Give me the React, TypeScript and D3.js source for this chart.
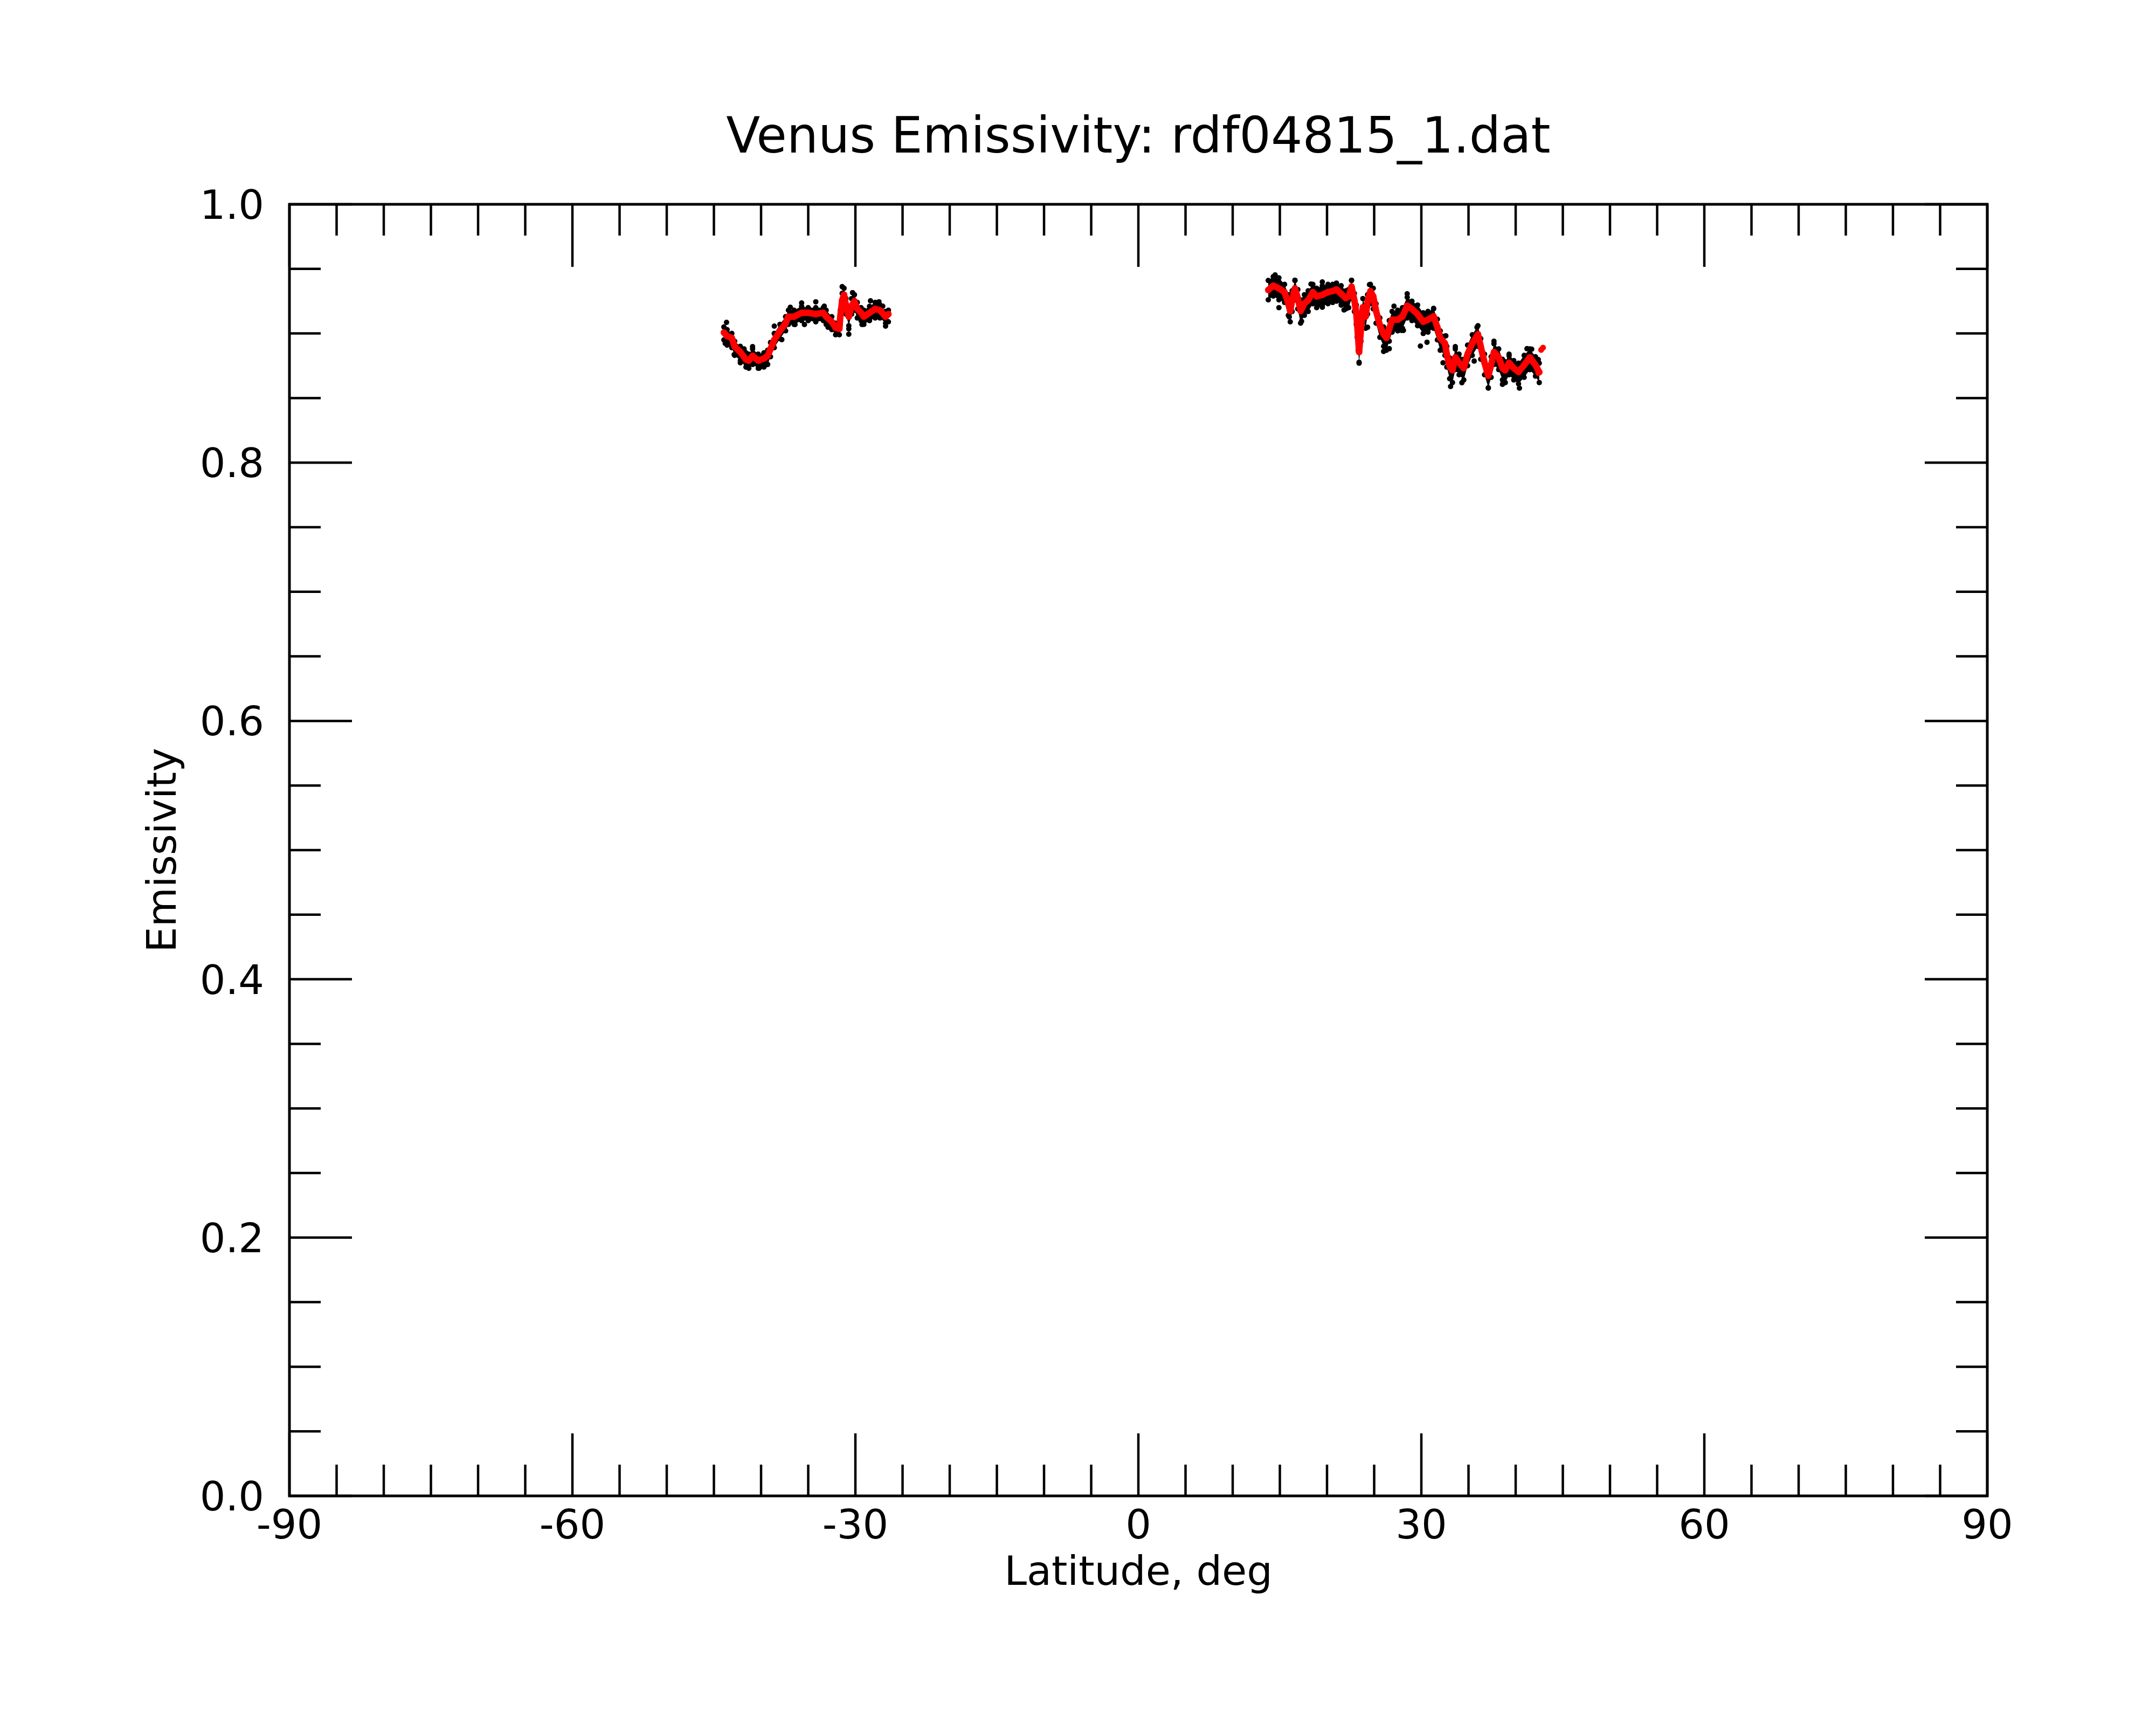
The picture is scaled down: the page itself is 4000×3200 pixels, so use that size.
import React from "react";
import * as d3 from "d3";

// ---------- data ----------
const title = "Venus Emissivity: rdf04815_1.dat";
const xLabel = "Latitude, deg";
const yLabel = "Emissivity";
const xMajorTicks = [-90, -60, -30, 0, 30, 60, 90];
const yMajorTicks = [0.0, 0.2, 0.4, 0.6, 0.8, 1.0];

// Southern segment
const southLat = [-43.94, -43.6, -43.1, -42.8, -42.2, -41.6, -41.3, -40.9, -40.3, -39.7, -39.3, -39.0, -38.6, -38.0, -37.4, -37.1, -36.5, -35.7, -35.0, -34.2, -33.4, -33.1, -32.5, -32.1, -31.7,
  -31.6, -31.4, -31.2, -31.0, -30.7, -30.4, -30.1, -29.8, -29.4, -29.1, -28.5, -27.9, -27.4, -26.8, -26.5];
const southSmooth = [0.9007, 0.898, 0.8965, 0.8898, 0.8856, 0.8798, 0.879, 0.8827, 0.879, 0.8806, 0.8827, 0.888, 0.895, 0.902, 0.9078, 0.913, 0.913, 0.916, 0.916, 0.915, 0.916, 0.913, 0.909, 0.9044, 0.9036,
  0.913, 0.9257, 0.930, 0.9215, 0.913, 0.9215, 0.925, 0.919, 0.916, 0.913, 0.916, 0.919, 0.918, 0.913, 0.915];
const southRawHigh = [0.905, 0.903, 0.900, 0.894, 0.890, 0.885, 0.884, 0.888, 0.884, 0.885, 0.887, 0.893, 0.900, 0.907, 0.913, 0.918, 0.918, 0.921, 0.920, 0.920, 0.920, 0.918, 0.913, 0.908, 0.906,
  0.918, 0.931, 0.935, 0.927, 0.918, 0.927, 0.930, 0.924, 0.920, 0.918, 0.921, 0.924, 0.922, 0.917, 0.918];
const southRawLow = [0.895, 0.891, 0.889, 0.883, 0.879, 0.874, 0.873, 0.876, 0.873, 0.874, 0.876, 0.882, 0.889, 0.896, 0.902, 0.907, 0.907, 0.910, 0.910, 0.909, 0.910, 0.907, 0.903, 0.899, 0.899,
  0.907, 0.919, 0.923, 0.915, 0.906, 0.915, 0.918, 0.912, 0.910, 0.907, 0.910, 0.912, 0.912, 0.908, 0.909];
const southOutLat = [-43.66, -43.8, -42.85, -41.8, -42.2, -40.9, -40.2, -39.5, -38.6, -37.8, -36.9, -36.4, -35.7, -35.4, -34.2, -33.3, -32.9, -31.9, -31.4, -30.3, -30.7, -30.7, -29.3, -28.4, -27.5, -26.8, -27.1];
const southOutEmis = [0.9086, 0.8923, 0.8836, 0.888, 0.8773, 0.8898, 0.8731, 0.8756, 0.9057, 0.8952, 0.9203, 0.9069, 0.9236, 0.9069, 0.9245, 0.9211, 0.9048, 0.9003, 0.9362, 0.9316, 0.8994, 0.9036, 0.9069, 0.9253, 0.9245, 0.9057, 0.9211];

// Northern segment
const northLat = [13.77, 14.3, 14.9, 15.5, 15.9, 16.1, 16.3, 16.6, 16.9, 17.2, 17.6, 18.0, 18.5, 18.9, 19.5, 20.1, 20.6, 21.0, 21.5, 22.0, 22.3, 22.6, 22.9, 23.1, 23.2, 23.3, 23.4, 23.6, 23.8, 24.1, 24.3, 24.6, 24.9, 25.2, 25.6, 26.0, 26.3, 26.6, 26.9, 27.5, 28.0, 28.5, 29.0, 29.6, 30.2, 30.7, 31.3, 31.7, 32.0, 32.5, 32.7, 33.0, 33.3, 33.6, 34.0, 34.5, 34.9, 35.4, 36.0, 36.3, 36.7, 37.1, 37.4, 37.7, 38.2, 38.6, 38.9, 39.3, 39.8, 40.3, 40.9, 41.5, 42.1, 42.5];
const northSmooth = [0.9336, 0.9370, 0.9349, 0.9320, 0.9232, 0.9174, 0.9257, 0.9349, 0.9274, 0.9174, 0.9232, 0.9257, 0.9320, 0.9287, 0.9299, 0.9320, 0.9328, 0.9341, 0.9307, 0.9274, 0.9287, 0.9362, 0.9257, 0.9161, 0.9065, 0.8965, 0.8856, 0.9036, 0.9203, 0.9132, 0.9245, 0.9328, 0.9287, 0.9174, 0.9065, 0.8994, 0.8965, 0.9036, 0.9107, 0.9107, 0.9132, 0.9215, 0.9190, 0.9149, 0.9091, 0.9107, 0.9132, 0.9048, 0.8965, 0.8923, 0.8840, 0.8744, 0.8715, 0.8815, 0.8773, 0.8731, 0.8840, 0.8923, 0.8994, 0.8898, 0.8773, 0.8673, 0.8756, 0.8856, 0.8815, 0.8731, 0.8715, 0.8773, 0.8731, 0.8702, 0.8756, 0.8815, 0.8756, 0.8700];
const northRawHigh = [0.941, 0.944, 0.943, 0.938, 0.930, 0.924, 0.933, 0.941, 0.934, 0.926, 0.930, 0.933, 0.938, 0.935, 0.937, 0.938, 0.938, 0.939, 0.937, 0.933, 0.934, 0.941, 0.931, 0.922, 0.912, 0.902, 0.891, 0.909, 0.927, 0.919, 0.930, 0.938, 0.935, 0.923, 0.912, 0.905, 0.902, 0.910, 0.917, 0.918, 0.920, 0.928, 0.925, 0.922, 0.916, 0.917, 0.919, 0.911, 0.902, 0.898, 0.890, 0.881, 0.878, 0.888, 0.884, 0.880, 0.891, 0.899, 0.906, 0.896, 0.884, 0.874, 0.882, 0.892, 0.888, 0.880, 0.878, 0.884, 0.879, 0.877, 0.883, 0.888, 0.882, 0.877];
const northRawLow = [0.926, 0.929, 0.926, 0.924, 0.914, 0.909, 0.917, 0.926, 0.919, 0.908, 0.914, 0.917, 0.923, 0.920, 0.921, 0.923, 0.924, 0.925, 0.922, 0.919, 0.920, 0.927, 0.917, 0.907, 0.897, 0.887, 0.877, 0.894, 0.911, 0.904, 0.915, 0.923, 0.919, 0.908, 0.897, 0.890, 0.887, 0.894, 0.901, 0.902, 0.904, 0.912, 0.910, 0.906, 0.900, 0.901, 0.904, 0.895, 0.887, 0.883, 0.874, 0.865, 0.862, 0.872, 0.868, 0.864, 0.875, 0.883, 0.890, 0.880, 0.868, 0.858, 0.866, 0.876, 0.872, 0.864, 0.862, 0.868, 0.864, 0.861, 0.866, 0.872, 0.867, 0.862];
const northOutLat = [16.6, 16.0, 17.3, 18.3, 19.5, 19.5, 21.8, 22.6, 23.4, 24.5, 24.3, 26.0, 26.6, 27.9, 27.1, 28.5, 28.1, 29.9, 30.6, 31.3, 32.3, 32.6, 33.1, 34.3, 33.6, 35.9, 35.6, 37.1, 37.7, 38.6, 39.3, 40.4, 41.2, 41.7, 42.4, 14.5, 14.9];
const northOutEmis = [0.9412, 0.9128, 0.9094, 0.9382, 0.9399, 0.9203, 0.9182, 0.9412, 0.8777, 0.9378, 0.9048, 0.8861, 0.8882, 0.9023, 0.9211, 0.9307, 0.9023, 0.8902, 0.8932, 0.9194, 0.8773, 0.8982, 0.8589, 0.8619, 0.8898, 0.9048, 0.8786, 0.8577, 0.8940, 0.8606, 0.8827, 0.8577, 0.8882, 0.8878, 0.8798, 0.9453, 0.9200];
const northEndLat = [42.7, 42.9, 42.4];
const northEndEmis = [0.8873, 0.8890, 0.8694];

// ---------- layout ----------
const W = 4000;
const H = 3200;
const L = 537, R = 3687, T = 379, B = 2775;
const FONT = "'DejaVu Sans', sans-serif";

const x = d3.scaleLinear().domain([-90, 90]).range([L, R]);
const y = d3.scaleLinear().domain([0, 1]).range([B, T]);

const xMinor = d3.range(-90, 90.001, 5);
const yMinor = d3.range(0, 1.0001, 0.05);

type Seg = { lat: number[]; smooth: number[]; hi: number[]; lo: number[] };
const segments: Seg[] = [
  { lat: southLat, smooth: southSmooth, hi: southRawHigh, lo: southRawLow },
  { lat: northLat, smooth: northSmooth, hi: northRawHigh, lo: northRawLow },
];

export default function App() {
  const minorLen = 58;
  const majorLen = 116;
  return (
    <svg
      width={W}
      height={H}
      viewBox={`0 0 ${W} ${H}`}
      style={{ position: "absolute", left: 0, top: 0, background: "#fff", display: "block" }}
      fontFamily={FONT}
    >
      <rect x={0} y={0} width={W} height={H} fill="#fff" />

      {/* raw data band (black) */}
      {segments.map((s, i) => {
        const a = d3
          .area<number>()
          .x((_, k) => x(s.lat[k]))
          .y0((_, k) => y(s.lo[k]))
          .y1((_, k) => y(s.hi[k]))
          .curve(d3.curveLinear);
        return (
          <g key={"raw" + i}>
            <path d={a(s.lat) || ""} fill="#000" />
            {s.lat.map((la, k) => (
              <g key={k}>
                <circle cx={x(la)} cy={y(s.hi[k])} r={5} fill="#000" />
                <circle cx={x(la)} cy={y(s.lo[k])} r={5} fill="#000" />
              </g>
            ))}
          </g>
        );
      })}
      {southOutLat.map((la, k) => (
        <circle key={"so" + k} cx={x(la)} cy={y(southOutEmis[k])} r={5} fill="#000" />
      ))}
      {northOutLat.map((la, k) => (
        <circle key={"no" + k} cx={x(la)} cy={y(northOutEmis[k])} r={5} fill="#000" />
      ))}

      {/* smoothed data (red) */}
      {segments.map((s, i) => {
        const ln = d3
          .line<number>()
          .x((_, k) => x(s.lat[k]))
          .y((_, k) => y(s.smooth[k]))
          .curve(d3.curveLinear);
        return (
          <g key={"sm" + i}>
            <path d={ln(s.lat) || ""} fill="none" stroke="#ff0000" strokeWidth={12} strokeLinejoin="round" strokeLinecap="round" />
            {s.lat.map((la, k) => (
              <circle key={k} cx={x(la)} cy={y(s.smooth[k])} r={6} fill="#ff0000" />
            ))}
          </g>
        );
      })}
      {northEndLat.map((la, k) => (
        <circle key={"ne" + k} cx={x(la)} cy={y(northEndEmis[k])} r={5.5} fill="#ff0000" />
      ))}

      {/* frame */}
      <rect x={L} y={T} width={R - L} height={B - T} fill="none" stroke="#000" strokeWidth={5} />

      {/* x ticks bottom & top */}
      {xMinor.map((v) => {
        const major = xMajorTicks.includes(Math.round(v));
        const len = major ? majorLen : minorLen;
        return (
          <g key={"xt" + v}>
            <line x1={x(v)} x2={x(v)} y1={B} y2={B - len} stroke="#000" strokeWidth={4.5} />
            <line x1={x(v)} x2={x(v)} y1={T} y2={T + len} stroke="#000" strokeWidth={4.5} />
          </g>
        );
      })}
      {/* y ticks left & right */}
      {yMinor.map((v) => {
        const major = Math.abs(Math.round(v * 20) % 4) === 0;
        const len = major ? majorLen : minorLen;
        return (
          <g key={"yt" + v}>
            <line x1={L} x2={L + len} y1={y(v)} y2={y(v)} stroke="#000" strokeWidth={4.5} />
            <line x1={R} x2={R - len} y1={y(v)} y2={y(v)} stroke="#000" strokeWidth={4.5} />
          </g>
        );
      })}

      {/* tick labels */}
      {xMajorTicks.map((v) => (
        <text key={"xl" + v} x={x(v)} y={2854} fontSize={75} textAnchor="middle" fill="#000">
          {String(v)}
        </text>
      ))}
      {yMajorTicks.map((v) => (
        <text key={"yl" + v} x={490} y={y(v) + 27} fontSize={75} textAnchor="end" fill="#000">
          {v.toFixed(1)}
        </text>
      ))}

      {/* labels */}
      <text x={(L + R) / 2} y={283} fontSize={92} textAnchor="middle" fill="#000">
        {title}
      </text>
      <text x={(L + R) / 2} y={2940} fontSize={75} textAnchor="middle" fill="#000">
        {xLabel}
      </text>
      <text
        transform={`translate(326, ${(T + B) / 2}) rotate(-90)`}
        fontSize={75}
        textAnchor="middle"
        fill="#000"
      >
        {yLabel}
      </text>
    </svg>
  );
}
